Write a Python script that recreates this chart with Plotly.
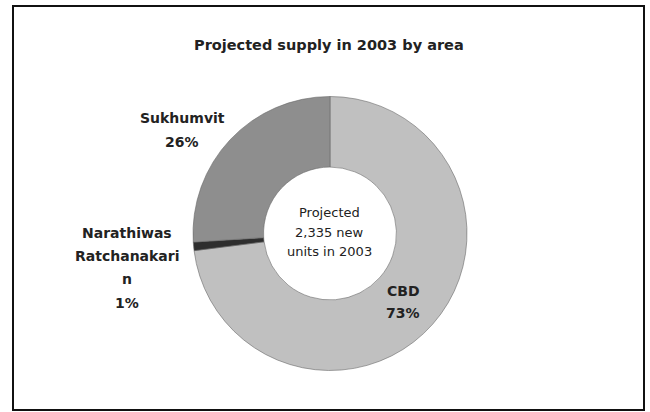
import plotly.graph_objects as go

# ---- data ----
areas = ["CBD", "Narathiwas Ratchanakarin", "Sukhumvit"]
shares = [73, 1, 26]
label_lines = [["CBD"], ["Narathiwas", "Ratchanakari", "n"], ["Sukhumvit"]]
center_lines = ["Projected", "2,335 new", "units in 2003"]
title_text = "Projected supply in 2003 by area"
colors = ["#c0c0c0", "#2e2e2e", "#8e8e8e"]

W, H = 650, 412
FONT = "DejaVu Sans, Arial, sans-serif"
TXT = "#222222"

cx, cy, R = 330, 233.5, 137

fig = go.Figure(go.Pie(
    labels=areas,
    values=shares,
    sort=False,
    direction="clockwise",
    rotation=0,
    hole=0.485,
    marker=dict(colors=colors, line=dict(color="#6a6a6a", width=0.6)),
    textinfo="none",
    hoverinfo="label+percent",
    showlegend=False,
    domain=dict(x=[(cx - R) / W, (cx + R) / W],
                y=[1 - (cy + R) / H, 1 - (cy - R) / H]),
))

def px_ann(x, y, text, size=14, bold=True):
    return dict(x=x / W, y=1 - y / H, xref="paper", yref="paper",
                text=f"<b>{text}</b>" if bold else text, showarrow=False,
                xanchor="center", yanchor="middle",
                font=dict(family=FONT, size=size, color=TXT))

total = sum(shares)
pcts = [f"{round(v * 100 / total)}%" for v in shares]

# label positions (pixels): x center, first-line y, line spacing
label_pos = [(403, 291, 22), (127, 233, 23.2), (182, 118, 24)]

anns = [px_ann(329, 45, title_text, size=14.5)]
for lines, pct, (x, y0, dy) in zip(label_lines, pcts, label_pos):
    for i, ln in enumerate(lines + [pct]):
        anns.append(px_ann(x, y0 + i * dy, ln, size=14))
for i, ln in enumerate(center_lines):
    anns.append(px_ann(329, 212 + i * 20, ln, size=13, bold=False))

fig.update_layout(
    width=W, height=H,
    margin=dict(l=0, r=0, t=0, b=0),
    paper_bgcolor="white",
    plot_bgcolor="white",
    annotations=anns,
    shapes=[dict(type="rect", xref="paper", yref="paper",
                 x0=13 / W, x1=644 / W, y0=1 - 410 / H, y1=1 - 6 / H,
                 line=dict(color="#111111", width=2))],
)

fig.write_html("out.html")
